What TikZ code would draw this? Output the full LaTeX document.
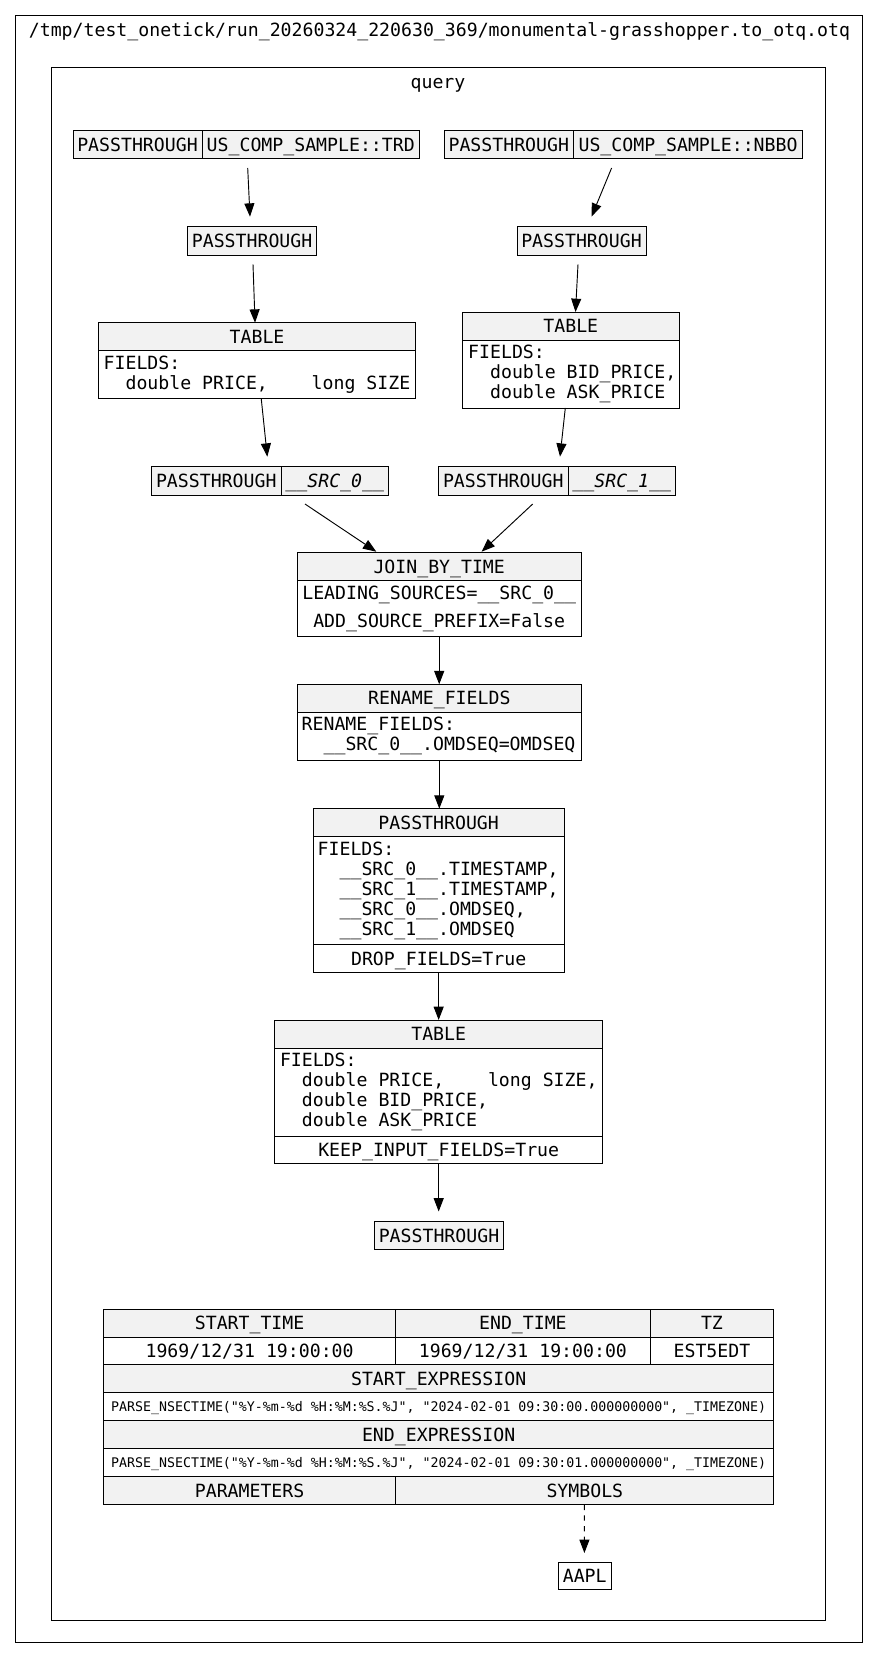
\documentclass[tikz,border=0pt]{standalone}
\usepackage{fontspec}
\setmonofont{DejaVu Sans Mono}
\usetikzlibrary{arrows.meta,calc}
\definecolor{hdr}{HTML}{F2F2F2}
\newcommand\mainf{\ttfamily\fontsize{13.64}{15}\selectfont}
\newcommand\smallf{\ttfamily\fontsize{9.95}{12}\selectfont}
\newcommand\ls{\rule[-2.5pt]{0pt}{12.5pt}}
\newcommand\ind{\hphantom{xx}}
\newcommand\cellnd[7]{\node[#6,minimum width={((#4)-(#2))*0.75pt},minimum height={((#5)-(#3))*0.75pt}] (#1) at ({((#2)+(#4))/2},{((#3)+(#5))/2}) {#7};}
\tikzset{
  every node/.style={font=\mainf},
  cb/.style={draw=black, line width=0.7pt, inner sep=0pt, outer sep=0pt, text height=12.5pt, text depth=2.5pt},
  g/.style={cb, fill=hdr},
  w/.style={cb, fill=white},
  sm/.style={font=\smallf, text height=9pt, text depth=1.75pt},
  frame/.style={draw=black, line width=0.7pt, inner sep=0pt, outer sep=0pt},
  lbl/.style={inner sep=0pt, text height=12.5pt, text depth=2.5pt},
  tx/.style={inner sep=0pt, outer sep=0pt, anchor=west, align=left},
  arr/.style={-{Triangle[length=10pt,width=7.5pt]}, line width=0.7pt},
}
\begin{document}
\begin{tikzpicture}[x=0.75pt,y=-0.75pt]
\useasboundingbox (0,0) rectangle (879,1659);
% clusters
\cellnd{outer}{15.8}{15.7}{862.3}{1642.3}{frame}{}
\cellnd{inner}{51.5}{67.7}{825}{1620.5}{frame}{}
\node[lbl] (title) at (439.5,29.5) {/tmp/test\_onetick/run\_20260324\_220630\_369/monumental-grasshopper.to\_otq.otq};
\node[lbl] (qlabel) at (438,82) {query};
% sources
\cellnd{trdA}{73}{130.7}{202}{158.7}{g}{PASSTHROUGH}
\cellnd{trdB}{202}{130.7}{419.5}{158.7}{g}{US\_COMP\_SAMPLE::TRD}
\cellnd{nbboA}{444}{130.7}{573.6}{158.7}{g}{PASSTHROUGH}
\cellnd{nbboB}{573.6}{130.7}{802.5}{158.7}{g}{US\_COMP\_SAMPLE::NBBO}
\cellnd{pt1}{187.5}{226.7}{316.7}{255}{g}{PASSTHROUGH}
\cellnd{pt2}{517}{226.7}{646}{255}{g}{PASSTHROUGH}
% tables
\cellnd{tabLh}{98.4}{322.7}{415.7}{350.7}{g}{TABLE}
\cellnd{tabLb}{98.4}{350.7}{415.7}{398.7}{w}{}
\node[tx] (tabLt) at ([shift={(5.3,0)}]tabLb.west) {\ls FIELDS:\\\ls\ind double PRICE,\ \ \ \ long SIZE};
\cellnd{tabRh}{462.3}{312}{679.3}{340}{g}{TABLE}
\cellnd{tabRb}{462.3}{340}{679.3}{408}{w}{}
\node[tx] (tabRt) at ([shift={(5.9,0)}]tabRb.west) {\ls FIELDS:\\\ls\ind double BID\_PRICE,\\\ls\ind double ASK\_PRICE};
% src
\cellnd{src0A}{151.5}{466.7}{281}{495}{g}{PASSTHROUGH}
\cellnd{src0B}{281}{466.7}{388.5}{495}{g}{\itshape \_\_SRC\_0\_\_}
\cellnd{src1A}{438.5}{466.7}{568}{495}{g}{PASSTHROUGH}
\cellnd{src1B}{568}{466.7}{675.5}{495}{g}{\itshape \_\_SRC\_1\_\_}
% join
\cellnd{joinh}{297.4}{552.7}{581}{580.7}{g}{JOIN\_BY\_TIME}
\cellnd{joinb}{297.4}{580.7}{581}{636.7}{w}{}
\node[tx, anchor=center, align=center] (joint) at (joinb.center) {\ls LEADING\_SOURCES=\_\_SRC\_0\_\_\\[6pt]\ls ADD\_SOURCE\_PREFIX=False};
% rename
\cellnd{renh}{297.3}{684.3}{581.3}{712.3}{g}{RENAME\_FIELDS}
\cellnd{renb}{297.3}{712.3}{581.3}{760.3}{w}{}
\node[tx] (rent) at ([shift={(4.4,0)}]renb.west) {\ls RENAME\_FIELDS:\\\ls\ind\_\_SRC\_0\_\_.OMDSEQ=OMDSEQ};
% passthrough
\cellnd{passh}{313.3}{808.7}{564}{836.7}{g}{PASSTHROUGH}
\cellnd{passb}{313.3}{836.7}{564}{944.7}{w}{}
\node[tx] (passt) at ([shift={(4.4,0)}]passb.west) {\ls FIELDS:\\\ls\ind\_\_SRC\_0\_\_.TIMESTAMP,\\\ls\ind\_\_SRC\_1\_\_.TIMESTAMP,\\\ls\ind\_\_SRC\_0\_\_.OMDSEQ,\\\ls\ind\_\_SRC\_1\_\_.OMDSEQ};
\cellnd{passd}{313.3}{944.7}{564}{972.7}{w}{DROP\_FIELDS=True}
% table 2
\cellnd{tabh}{274.7}{1020}{602.7}{1048}{g}{TABLE}
\cellnd{tabb}{274.7}{1048}{602.7}{1136}{w}{}
\node[tx] (tabt) at ([shift={(5.3,0)}]tabb.west) {\ls FIELDS:\\\ls\ind double PRICE,\ \ \ \ long SIZE,\\\ls\ind double BID\_PRICE,\\\ls\ind double ASK\_PRICE};
\cellnd{tabk}{274.7}{1136}{602.7}{1163.7}{w}{KEEP\_INPUT\_FIELDS=True}
\cellnd{ptEnd}{374.5}{1221.5}{503.5}{1249.5}{g}{PASSTHROUGH}
% footer table
\cellnd{f11}{103.4}{1309}{395.8}{1337}{g}{START\_TIME}
\cellnd{f12}{395.8}{1309}{650}{1337}{g}{END\_TIME}
\cellnd{f13}{650}{1309}{773.9}{1337}{g}{TZ}
\cellnd{f21}{103.4}{1337}{395.8}{1364.5}{w}{1969/12/31 19:00:00}
\cellnd{f22}{395.8}{1337}{650}{1364.5}{w}{1969/12/31 19:00:00}
\cellnd{f23}{650}{1337}{773.9}{1364.5}{w}{EST5EDT}
\cellnd{f3}{103.4}{1364.5}{773.9}{1392.5}{g}{START\_EXPRESSION}
\cellnd{f4}{103.4}{1392.5}{773.9}{1420.7}{w,sm}{PARSE\_NSECTIME("\%Y-\%m-\%d \%H:\%M:\%S.\%J", "2024-02-01 09:30:00.000000000", \_TIMEZONE)}
\cellnd{f5}{103.4}{1420.7}{773.9}{1448.7}{g}{END\_EXPRESSION}
\cellnd{f6}{103.4}{1448.7}{773.9}{1476.7}{w,sm}{PARSE\_NSECTIME("\%Y-\%m-\%d \%H:\%M:\%S.\%J", "2024-02-01 09:30:01.000000000", \_TIMEZONE)}
\cellnd{f71}{103.4}{1476.7}{395.8}{1504.7}{g}{PARAMETERS}
\cellnd{f72}{395.8}{1476.7}{773.9}{1504.7}{g}{SYMBOLS}
\cellnd{aapl}{558.3}{1562.5}{611.1}{1589}{w}{AAPL}
% connectors
\draw[arr] ($(trdB.south west)+(45.7,9.3)$) -- ($(pt1.north)+(-2.1,-10)$);
\draw[arr] ($(nbboB.south west)+(38,9.3)$) -- ($(pt2.north)+(10,-10)$);
\draw[arr] ($(pt1.south)+(0.9,9.3)$) -- ($(tabLh.north)+(-2,0)$);
\draw[arr] ($(pt2.south)+(-3.5,9.3)$) -- ($(tabRh.north)+(4.7,0)$);
\draw[arr] ($(tabLb.south)+(4.2,0)$) -- ($(src0B.north west)+(-13.7,-10)$);
\draw[arr] ($(tabRb.south)+(-5.5,0)$) -- ($(src1B.north west)+(-8,-10)$);
\draw[arr] ($(src0B.south west)+(24,9)$) -- ($(joinh.north)+(-62.9,-1)$);
\draw[arr] ($(src1B.south west)+(-35.3,9)$) -- ($(joinh.north)+(42.4,-1)$);
\draw[arr] (joinb.south) -- (joinb.south |- renh.north);
\draw[arr] (renb.south) -- (renb.south |- passh.north);
\draw[arr] (passd.south) -- (passd.south |- tabh.north);
\draw[arr] (tabk.south) -- ($(tabk.south |- ptEnd.north)+(0,-10)$);
\draw[arr, dash pattern=on 4pt off 4pt] ($(f72.south)+(-0.4,0)$) -- ($(aapl.north)+(-0.3,-9.5)$);
\end{tikzpicture}
\end{document}
